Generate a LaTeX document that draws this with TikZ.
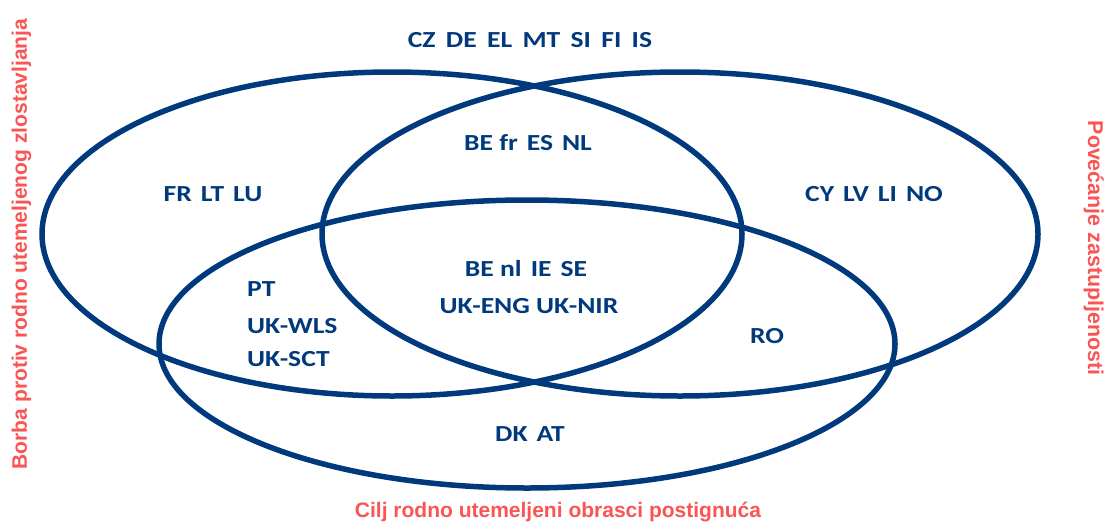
\documentclass[tikz,border=0pt]{standalone}
\usepackage{fontspec}
\setmainfont{Liberation Sans}
\newfontfamily\bluefont[FakeStretch=1.2]{Carlito}
\definecolor{navy}{RGB}{0,58,125}
\definecolor{salmon}{RGB}{250,85,85}
\newcommand\gp{\hspace{9pt}}
\newcommand\gq{\hspace{10.3pt}}
\tikzset{
  ring/.style={draw=navy, line width=5.5pt},
  code/.style={inner sep=0pt, anchor=base, text=navy, font=\bluefont\bfseries\fontsize{23}{26}\selectfont},
  axis/.style={inner sep=0pt, anchor=base, text=salmon, font=\bfseries\fontsize{21}{24}\selectfont}
}
\begin{document}
\begin{tikzpicture}[x=1pt,y=-1pt]
\useasboundingbox (0,0) rectangle (1107,522);
% ellipses
\draw[ring] (392,234) ellipse [x radius=350, y radius=162];
\draw[ring] (680,234) ellipse [x radius=358, y radius=162];
\draw[ring] (527,344) ellipse [x radius=368, y radius=144];
% labels
\node[code] (top) at (530,47) {CZ\gq DE\gq EL\gq MT\gq SI\gq FI\gq IS};
\node[code] (befr) at (528,150) {BE fr\gp ES\gp NL};
\node[code] (frltlu) at (213,201) {FR\gp LT\gp LU};
\node[code] (cylv) at (874,201) {CY\gp LV\gp LI\gp NO};
\node[code] (benl) at (526,276) {BE nl\gp IE\gp SE};
\node[code] (ukeng) at (529,313) {UK-ENG UK-NIR};
\node[code, anchor=base west] (pt) at (247,296) {PT};
\node[code, anchor=base west] (ukwls) at (247,333) {UK-WLS};
\node[code, anchor=base west] (uksct) at (247,366) {UK-SCT};
\node[code] (ro) at (767,343) {RO};
\node[code] (dkat) at (530,441) {DK\gp AT};
% axis titles
\node[axis] (bottom) at (558,517) {Cilj rodno utemeljeni obrasci postignuća};
\node[axis, rotate=90] (left) at (27,244) {Borba protiv rodno utemeljenog zlostavljanja};
\node[axis, rotate=-90, font=\bfseries\fontsize{21.4}{24}\selectfont] (right) at (1088,248) {Povećanje zastupljenosti};
\end{tikzpicture}
\end{document}
